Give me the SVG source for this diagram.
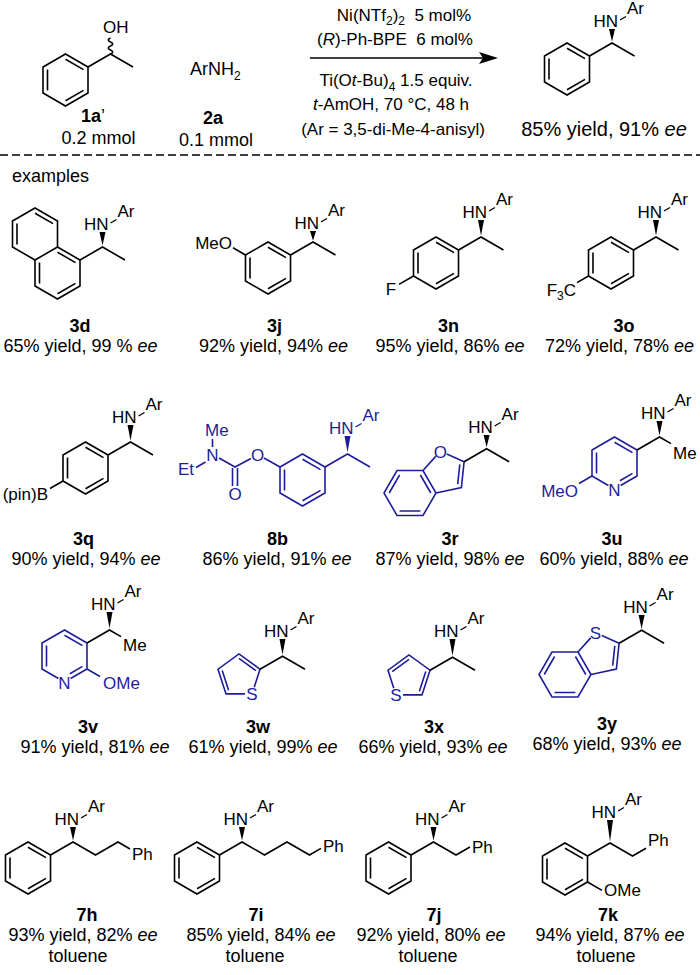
<svg xmlns="http://www.w3.org/2000/svg" width="700" height="975" viewBox="0 0 700 975">
<style>
.bd{fill:none;stroke:#000;stroke-width:1.6}
.bu{fill:none;stroke:#1d1d9b;stroke-width:1.6}
text{font-family:"Liberation Sans",Arial,Helvetica,sans-serif}
.a{font-size:17px}
.c{font-size:18px}
.t{font-size:17px}
.n{font-size:18px;font-weight:bold}
.blue{fill:#1d1d9b}
.i{font-style:italic}
.w{fill:#000}
.wu{fill:#1d1d9b}
.sub{font-size:12px}
</style>
<defs>
<path id="ra" d="M0,-26L22.5,-13L22.5,13L0,26L-22.5,13L-22.5,-13ZM0,-20.8L18,-10.4M18,10.4L0,20.8M-18,10.4L-18,-10.4"/>
<g id="hn">
<text class="a" x="6.1" y="0" text-anchor="end" fill="currentColor">HN</text>
<line x1="8" y1="-7" x2="14" y2="-10.5" stroke="currentColor" stroke-width="1.3"/>
<text class="a" x="15" y="-13" fill="currentColor">Ar</text>
</g>
</defs>
<rect width="700" height="975" fill="#fff"/>

<g id="sm1a">
<use href="#ra" x="65.5" y="80" class="bd"/>
<path class="bd" d="M88,67L110.5,54L133,67"/>
<path class="bd" d="M110.5,54c3,-1.2 3,-2.8 0,-4c-3,-1.2 -3,-2.8 0,-4c3,-1.2 3,-2.8 0,-4c-3,-1.2 -3,-2.8 0,-4"/>
<text class="a" x="103" y="33">OH</text>
<text class="n" x="93" y="122" text-anchor="middle">1a<tspan font-weight="normal">’</tspan></text>
<text class="c" x="98.5" y="144" text-anchor="middle">0.2 mmol</text>
</g>

<g id="sm2a">
<text class="c" x="190" y="75">ArNH<tspan class="sub" dy="5">2</tspan></text>
<text class="n" x="213" y="124" text-anchor="middle">2a</text>
<text class="c" x="216" y="146" text-anchor="middle">0.1 mmol</text>
</g>

<g id="conditions">
<text class="t" x="404" y="21" text-anchor="middle">Ni(NTf<tspan class="sub" dy="4">2</tspan><tspan dy="-4">)</tspan><tspan class="sub" dy="4">2</tspan><tspan dy="-4">&#160; 5 mol%</tspan></text>
<text class="t" x="395" y="45" text-anchor="middle">(<tspan class="i">R</tspan>)-Ph-BPE&#160; 6 mol%</text>
<text class="t" x="396" y="86" text-anchor="middle">Ti(O<tspan class="i">t</tspan>-Bu)<tspan class="sub" dy="5">4</tspan><tspan dy="-5"> 1.5 equiv.</tspan></text>
<text class="t" x="391" y="110" text-anchor="middle"><tspan class="i">t</tspan>-AmOH, 70 °C, 48 h</text>
<text class="t" x="393" y="135" text-anchor="middle">(Ar = 3,5-di-Me-4-anisyl)</text>
</g>

<g id="connectors">
<line x1="310" y1="58" x2="484" y2="58" stroke="#000" stroke-width="1.6"/>
<polygon points="498,58 479,52 483,58 479,64" fill="#000"/>
</g>

<g id="product">
<use href="#ra" x="567" y="69" class="bd"/>
<path class="bd" d="M589.5,56L612,43L634.5,56"/>
<polygon class="w" points="612,41.5 609,29 615,29"/>
<use href="#hn" x="612" y="27" style="color:#000"/>
<text x="604" y="136" text-anchor="middle" font-size="20">85% yield, 91% <tspan class="i">ee</tspan></text>
</g>

<line x1="0" y1="155" x2="700" y2="155" stroke="#000" stroke-width="1.3" stroke-dasharray="8,4"/>
<text class="c" x="12" y="182">examples</text>

<g id="c3d">
<path class="bd" d="M35,208L57.5,221L57.5,247L35,260L12.5,247L12.5,221Z M57.5,247L80,260L80,286L57.5,299L35,286L35,260 M35,213.2L53,223.6 M17,244.4L17,223.6 M39.5,283.4L39.5,262.6 M75.5,283.4L57.5,293.8 M57.5,252.2L75.5,262.6 M80,260L102.5,247L125,260"/>
<polygon class="w" points="102.5,245.5 99.5,232 105.5,232"/>
<use href="#hn" x="102.5" y="230" style="color:#000"/>
<text class="n" x="80" y="332" text-anchor="middle">3d</text>
<text class="c" x="80.5" y="352" text-anchor="middle">65% yield, 99 % <tspan class="i">ee</tspan></text>
</g>

<g id="c3j">
<use href="#ra" x="268" y="268" class="bd"/>
<path class="bd" d="M290.5,255L313,242L335.5,255 M245.5,255L233,247.8"/>
<polygon class="w" points="313,240.5 310,231 316,231"/>
<use href="#hn" x="313" y="229" style="color:#000"/>
<text class="a" x="232" y="249" text-anchor="end">MeO</text>
<text class="n" x="274.5" y="332" text-anchor="middle">3j</text>
<text class="c" x="273.5" y="352" text-anchor="middle">92% yield, 94% <tspan class="i">ee</tspan></text>
</g>

<g id="c3n">
<use href="#ra" x="436" y="263" class="bd"/>
<path class="bd" d="M458.5,250L481,237L503.5,250 M413.5,276L399,284.4"/>
<polygon class="w" points="481,235.5 478,220 484,220"/>
<use href="#hn" x="481" y="218" style="color:#000"/>
<text class="a" x="391" y="295" text-anchor="middle">F</text>
<text class="n" x="448.5" y="332" text-anchor="middle">3n</text>
<text class="c" x="450" y="352" text-anchor="middle">95% yield, 86% <tspan class="i">ee</tspan></text>
</g>

<g id="c3o">
<use href="#ra" x="611" y="263" class="bd"/>
<path class="bd" d="M633.5,250L656,237L678.5,250 M588.5,276L577,282.6"/>
<polygon class="w" points="656,235.5 653,220 659,220"/>
<use href="#hn" x="656" y="218" style="color:#000"/>
<text class="a" x="576" y="296" text-anchor="end">F<tspan class="sub" dy="4">3</tspan><tspan dy="-4">C</tspan></text>
<text class="n" x="624" y="332" text-anchor="middle">3o</text>
<text class="c" x="619.5" y="352" text-anchor="middle">72% yield, 78% <tspan class="i">ee</tspan></text>
</g>

<g id="c3q">
<use href="#ra" x="85.5" y="468" class="bd"/>
<path class="bd" d="M108,455L130.5,442L153,455 M63,481L50,488.5"/>
<polygon class="w" points="130.5,440.5 127.5,425 133.5,425"/>
<use href="#hn" x="130.5" y="423" style="color:#000"/>
<text class="a" x="48" y="500" text-anchor="end">(pin)B</text>
<text class="n" x="83.5" y="545" text-anchor="middle">3q</text>
<text class="c" x="86" y="565" text-anchor="middle">90% yield, 94% <tspan class="i">ee</tspan></text>
</g>

<g id="c8b">
<use href="#ra" x="302.5" y="480" class="bu"/>
<path class="bu" d="M325,467L347.5,454L370,467 M280,467L264,458 M251,458.5L235,467L219,458 M212.5,447L212.5,439 M205.5,462L196,467.5 M232.5,468L232.5,486 M237.5,468L237.5,486"/>
<polygon class="wu" points="347.5,452.5 344.5,436 350.5,436"/>
<use href="#hn" x="347.5" y="434" style="color:#1d1d9b"/>
<text class="a blue" x="257.5" y="461" text-anchor="middle">O</text>
<text class="a blue" x="212.5" y="460.5" text-anchor="middle">N</text>
<text class="a blue" x="205" y="436">Me</text>
<text class="a blue" x="194" y="475" text-anchor="end">Et</text>
<text class="a blue" x="235" y="499.5" text-anchor="middle">O</text>
<text class="n" x="277.5" y="545" text-anchor="middle">8b</text>
<text class="c" x="277" y="565" text-anchor="middle">86% yield, 91% <tspan class="i">ee</tspan></text>
</g>

<g id="c3r">
<path class="bu" d="M397,470.5L423,470.5L436,493L423,515.5L397,515.5L384,493Z M423,470.5L435.7,456.4 M446.8,454L464.1,461.7L461.4,487.6L436,493 M420.4,475L430.8,493 M420.4,511L399.6,511 M389.2,493L399.6,475 M459.8,464.3L457.7,484.2"/>
<text class="a blue" x="440.4" y="457.7" text-anchor="middle">O</text>
<path class="bd" d="M464.1,461.7L486.6,448.7L509.1,461.7"/>
<polygon class="w" points="486.6,447.2 483.6,435 489.6,435"/>
<use href="#hn" x="486.6" y="433" style="color:#000"/>
<text class="n" x="450" y="545" text-anchor="middle">3r</text>
<text class="c" x="450" y="565" text-anchor="middle">87% yield, 98% <tspan class="i">ee</tspan></text>
</g>

<g id="c3u">
<path class="bu" d="M620.6,485.5L637,476L637,450L614.5,437L592,450L592,476L608.4,485.5 M614.5,442.2L632.5,452.6 M632.5,473.4L619.9,480.7 M596.5,473.4L596.5,452.6 M592,476L579,483.5"/>
<text class="a blue" x="614.5" y="495.5" text-anchor="middle">N</text>
<text class="a blue" x="578" y="497" text-anchor="end">MeO</text>
<path class="bd" d="M637,450L659.5,437L671,443.6"/>
<text class="a" x="673" y="459">Me</text>
<polygon class="w" points="659.5,435.5 656.5,421 662.5,421"/>
<use href="#hn" x="659.5" y="419" style="color:#000"/>
<text class="n" x="612" y="545" text-anchor="middle">3u</text>
<text class="c" x="614" y="565" text-anchor="middle">60% yield, 88% <tspan class="i">ee</tspan></text>
</g>

<g id="c3v">
<path class="bu" d="M70.6,678.5L87,669L87,643L64.5,630L42,643L42,669L58.4,678.5 M64.5,635.2L82.5,645.6 M82.5,666.4L69.9,673.7 M46.5,666.4L46.5,645.6 M87,669L100,676.5"/>
<text class="a blue" x="64.5" y="688.5" text-anchor="middle">N</text>
<text class="a blue" x="103" y="688.5">OMe</text>
<path class="bd" d="M87,643L109.5,630L121,636.6"/>
<text class="a" x="123" y="651">Me</text>
<polygon class="w" points="109.5,628.5 106.5,612 112.5,612"/>
<use href="#hn" x="109.5" y="610" style="color:#000"/>
<text class="n" x="88" y="733" text-anchor="middle">3v</text>
<text class="c" x="95" y="753" text-anchor="middle">91% yield, 81% <tspan class="i">ee</tspan></text>
</g>

<g id="c3w">
<path class="bu" d="M254.2,687.2L260,669.2L239,653.9L218,669.2L226,693.9L245,693.9 M255.8,670.6L239,658.3 M222.2,670.6L228.6,690.3"/>
<text class="a blue" x="252" y="700.4" text-anchor="middle">S</text>
<path class="bd" d="M260,669.2L282.5,656.2L305,669.2"/>
<polygon class="w" points="282.5,654.7 279.5,639 285.5,639"/>
<use href="#hn" x="282.5" y="637" style="color:#000"/>
<text class="n" x="258" y="733" text-anchor="middle">3w</text>
<text class="c" x="263" y="753" text-anchor="middle">61% yield, 99% <tspan class="i">ee</tspan></text>
</g>

<g id="c3x">
<path class="bu" d="M403,694.9L422,694.9L430,670.2L409,654.9L388,670.2L393.8,688.2 M419.4,691.3L425.8,671.6 M409,659.3L392.2,671.6"/>
<text class="a blue" x="396" y="701.4" text-anchor="middle">S</text>
<path class="bd" d="M430,670.2L452.5,657.2L475,670.2"/>
<polygon class="w" points="452.5,655.7 449.5,639 455.5,639"/>
<use href="#hn" x="452.5" y="637" style="color:#000"/>
<text class="n" x="434" y="733" text-anchor="middle">3x</text>
<text class="c" x="433" y="753" text-anchor="middle">66% yield, 93% <tspan class="i">ee</tspan></text>
</g>

<g id="c3y">
<path class="bu" d="M552,652L578,652L591,674.5L578,697L552,697L539,674.5Z M578,652L590.7,637.9 M601.8,635.5L619.1,643.2L616.4,669.1L591,674.5 M575.4,656.5L585.8,674.5 M575.4,692.5L554.6,692.5 M544.2,674.5L554.6,656.5 M614.8,645.8L612.7,665.7"/>
<text class="a blue" x="595.4" y="639.2" text-anchor="middle">S</text>
<path class="bd" d="M619.1,643.2L641.6,630.2L664.1,643.2"/>
<polygon class="w" points="641.6,628.7 638.6,615 644.6,615"/>
<use href="#hn" x="641.6" y="613" style="color:#000"/>
<text class="n" x="607" y="730" text-anchor="middle">3y</text>
<text class="c" x="607" y="750" text-anchor="middle">68% yield, 93% <tspan class="i">ee</tspan></text>
</g>

<g id="c7h">
<use href="#ra" x="28" y="868" class="bd"/>
<path class="bd" d="M50.5,855L73,842L95.5,855L118,842L130,849"/>
<text class="a" x="132" y="860">Ph</text>
<polygon class="w" points="73,840.5 70,827 76,827"/>
<use href="#hn" x="73" y="825" style="color:#000"/>
<text class="n" x="87" y="921" text-anchor="middle">7h</text>
<text class="c" x="83" y="941" text-anchor="middle">93% yield, 82% <tspan class="i">ee</tspan></text>
<text class="c" x="78" y="962" text-anchor="middle">toluene</text>
</g>

<g id="c7i">
<use href="#ra" x="197" y="868" class="bd"/>
<path class="bd" d="M219.5,855L242,842L264.5,855L287,842L309.5,855L321,848.4"/>
<text class="a" x="323" y="852">Ph</text>
<polygon class="w" points="242,840.5 239,827 245,827"/>
<use href="#hn" x="242" y="825" style="color:#000"/>
<text class="n" x="256" y="921" text-anchor="middle">7i</text>
<text class="c" x="261" y="941" text-anchor="middle">85% yield, 84% <tspan class="i">ee</tspan></text>
<text class="c" x="255" y="962" text-anchor="middle">toluene</text>
</g>

<g id="c7j">
<use href="#ra" x="388.5" y="868" class="bd"/>
<path class="bd" d="M411,855L433.5,842L456,855L470,847"/>
<text class="a" x="472" y="853">Ph</text>
<polygon class="w" points="433.5,840.5 430.5,827 436.5,827"/>
<use href="#hn" x="433.5" y="825" style="color:#000"/>
<text class="n" x="434" y="921" text-anchor="middle">7j</text>
<text class="c" x="431" y="941" text-anchor="middle">92% yield, 80% <tspan class="i">ee</tspan></text>
<text class="c" x="428" y="962" text-anchor="middle">toluene</text>
</g>

<g id="c7k">
<use href="#ra" x="565" y="869" class="bd"/>
<path class="bd" d="M587.5,856L610,843L632.5,856L646,848.2 M587.5,882L602,890.4"/>
<text class="a" x="648" y="846">Ph</text>
<text class="a" x="604" y="896">OMe</text>
<polygon class="w" points="610,841.5 607,820 613,820"/>
<use href="#hn" x="610" y="818" style="color:#000"/>
<text class="n" x="608" y="921" text-anchor="middle">7k</text>
<text class="c" x="610" y="941" text-anchor="middle">94% yield, 87% <tspan class="i">ee</tspan></text>
<text class="c" x="606" y="962" text-anchor="middle">toluene</text>
</g>
</svg>
